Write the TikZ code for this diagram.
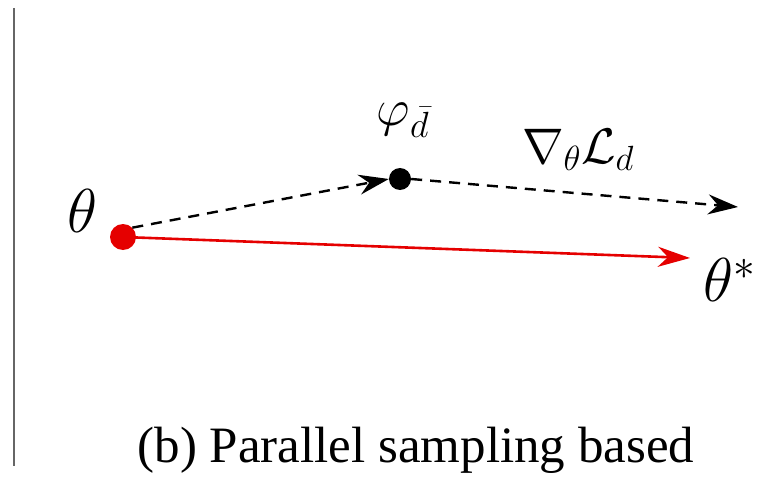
\RequirePackage{fix-cm}
\documentclass[tikz,border=0pt]{standalone}
\usepackage{fontspec}
\setmainfont{Liberation Serif}
\usetikzlibrary{arrows.meta}
\begin{document}
\begin{tikzpicture}[x=1pt,y=-1pt,
  dot/.style={circle,inner sep=0pt,minimum size=#1},
  lbl/.style={inner sep=0pt},
  dasharrow/.style={line width=2.4pt,dash pattern=on 11pt off 8pt,
    -{Stealth[length=30pt,width=20pt,inset=10pt]}},
  redarrow/.style={red!90!black,line width=2.6pt,
    -{Stealth[length=32pt,width=20pt,inset=10pt]}}]
\useasboundingbox (0,0) rectangle (762,481);
\draw[gray!80!black,line width=1.4pt] (14,8) -- (14,466);
\node[dot=26pt,fill=red!90!black] (t) at (123,237) {};
\node[dot=22pt,fill=black] (p) at (400,179) {};
\coordinate (ts) at (690,258);
\coordinate (g) at (738,207);
\draw[redarrow] (t.center) -- (ts);
\draw[dasharrow] (t.north east) -- (p.west);
\draw[dasharrow] (p.east) -- (g);
\node[lbl,font=\fontsize{62}{68}\selectfont] (lt) at (82,211) {$\theta$};
\node[lbl,font=\fontsize{52}{58}\selectfont] (lp) at (403,120) {$\varphi_{\bar d}$};
\node[lbl,font=\fontsize{50}{56}\selectfont] (lg) at (578,150) {$\nabla_{\theta}\mathcal{L}_d$};
\node[lbl,font=\fontsize{62}{68}\selectfont] (ls) at (730,280) {$\theta^*$};
\node[lbl,font=\fontsize{51}{56}\selectfont] (cap) at (416,450) {(b) Parallel sampling based};
\end{tikzpicture}
\end{document}
